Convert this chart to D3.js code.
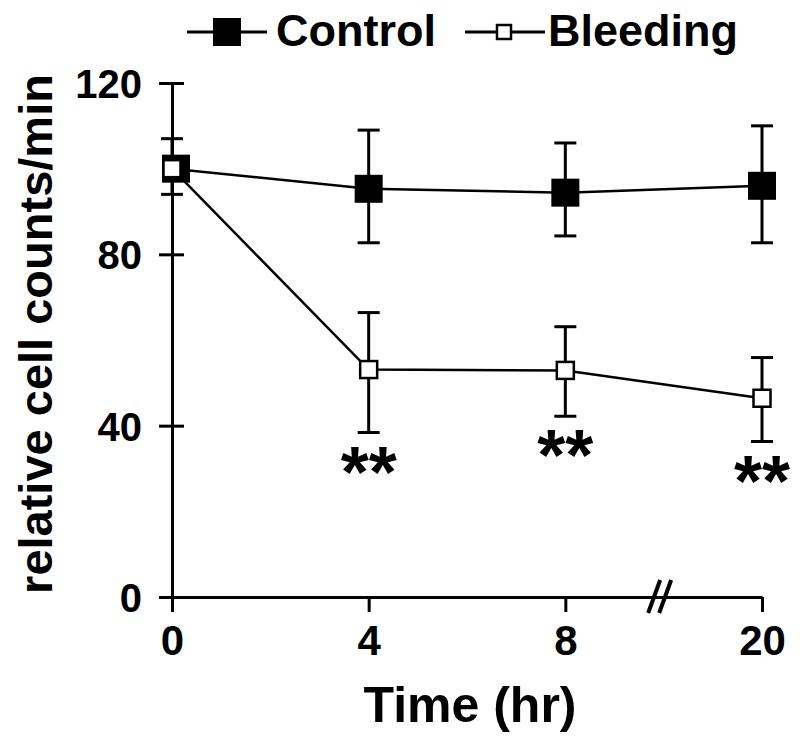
<!DOCTYPE html>
<html>
<head>
<meta charset="utf-8">
<script src="https://cdn.jsdelivr.net/npm/d3@7"></script>
<style>
	body { margin: 0; background: #fff; }
	text { font-family: "Liberation Sans", Arial, sans-serif; font-weight: bold; fill: #000; }
</style>
</head>
<body>
<div id="chart"></div>
<script>
	'use strict';

	// data
	var timeLabels = ['0', '4', '8', '20'];
	var controlMean = [100, 95.3, 94.4, 96];
	var controlUpper = [107, 109, 106, 110];
	var controlLower = [94, 82.7, 84.3, 82.7];
	var bleedingMean = [100, 53.1, 52.9, 46.4];
	var bleedingUpper = [100, 66.4, 63.1, 55.9];
	var bleedingLower = [100, 38.4, 42.2, 36.3];
	var significant = ['', '**', '**', '**'];
	var yTicks = [0, 40, 80, 120];

	var width = 800, height = 743;

	var svg = d3.select('#chart').append('svg')
		.attr('width', width)
		.attr('height', height);

	var x = d3.scalePoint()
		.domain(timeLabels)
		.range([172, 762]);

	var y = d3.scaleLinear()
		.domain([0, 120])
		.range([597, 83]);

	function rows(mean, upper, lower) {
		return timeLabels.map(function (t, i) {
			return { t: t, v: mean[i], hi: upper[i], lo: lower[i], star: significant[i] };
		});
	}
	var control = rows(controlMean, controlUpper, controlLower);
	var bleeding = rows(bleedingMean, bleedingUpper, bleedingLower);

	// y axis, ticks cross the line
	var yAxis = svg.append('g')
		.attr('transform', 'translate(' + x('0') + ',0)')
		.call(d3.axisLeft(y).tickValues(yTicks).tickSize(13).tickSizeOuter(0).tickPadding(17));
	yAxis.selectAll('.tick line').attr('x1', 12).attr('stroke-width', 3);
	yAxis.select('.domain').attr('stroke-width', 3);
	yAxis.selectAll('.tick text')
		.style('font-size', '40px')
		.attr('dy', '0.36em');

	// x axis
	var xAxis = svg.append('g')
		.attr('transform', 'translate(0,' + y(0) + ')')
		.call(d3.axisBottom(x).tickSize(15).tickSizeOuter(0).tickPadding(13));
	xAxis.select('.domain').attr('stroke-width', 3);
	xAxis.selectAll('.tick line').attr('stroke-width', 3);
	xAxis.selectAll('.tick text')
		.style('font-size', '42px')
		.attr('dy', '0.72em');

	// axis break marks between 8 and 20
	var breakX = (x('8') + x('20')) / 2 - 4;
	[-5.5, 5.5].forEach(function (dx) {
		svg.append('line')
			.attr('x1', breakX + dx - 6).attr('y1', y(0) + 16)
			.attr('x2', breakX + dx + 6).attr('y2', y(0) - 17)
			.attr('stroke', '#000').attr('stroke-width', 4);
	});

	// axis titles
	svg.append('text')
		.attr('x', 470).attr('y', 722)
		.attr('text-anchor', 'middle')
		.style('font-size', '50px')
		.text('Time (hr)');

	svg.append('text')
		.attr('transform', 'translate(52,334) rotate(-90)')
		.attr('text-anchor', 'middle')
		.style('font-size', '47px')
		.text('relative cell counts/min');

	var line = d3.line()
		.x(function (d) { return x(d.t); })
		.y(function (d) { return y(d.v); });

	var capW = 11;

	function drawSeries(data) {
		svg.append('path')
			.datum(data)
			.attr('fill', 'none')
			.attr('stroke', '#000')
			.attr('stroke-width', 2.5)
			.attr('d', line);

		var eb = svg.append('g').selectAll('g')
			.data(data.filter(function (d) { return d.hi !== d.lo; }))
			.enter().append('g')
			.attr('stroke', '#000')
			.attr('stroke-width', 3);
		eb.append('line')
			.attr('x1', function (d) { return x(d.t); })
			.attr('x2', function (d) { return x(d.t); })
			.attr('y1', function (d) { return y(d.hi); })
			.attr('y2', function (d) { return y(d.lo); });
		eb.append('line')
			.attr('x1', function (d) { return x(d.t) - capW; })
			.attr('x2', function (d) { return x(d.t) + capW; })
			.attr('y1', function (d) { return y(d.hi); })
			.attr('y2', function (d) { return y(d.hi); });
		eb.append('line')
			.attr('x1', function (d) { return x(d.t) - capW; })
			.attr('x2', function (d) { return x(d.t) + capW; })
			.attr('y1', function (d) { return y(d.lo); })
			.attr('y2', function (d) { return y(d.lo); });
	}

	drawSeries(control);
	drawSeries(bleeding);

	// markers
	var bigS = 28, smallS = 17;
	svg.selectAll('.ctrl')
		.data(control)
		.enter().append('rect')
		.attr('class', 'ctrl')
		.attr('x', function (d) { return x(d.t) - bigS / 2 + (d.t === '0' ? 4 : 0); })
		.attr('y', function (d) { return y(d.v) - bigS / 2; })
		.attr('width', bigS).attr('height', bigS)
		.attr('fill', '#000');

	svg.selectAll('.bleed')
		.data(bleeding)
		.enter().append('rect')
		.attr('class', 'bleed')
		.attr('x', function (d) { return x(d.t) - smallS / 2; })
		.attr('y', function (d) { return y(d.v) - smallS / 2; })
		.attr('width', smallS).attr('height', smallS)
		.attr('fill', '#fff')
		.attr('stroke', '#000')
		.attr('stroke-width', 2.5);

	// significance stars below the bleeding error bars
	svg.selectAll('.star')
		.data(bleeding.filter(function (d) { return d.star; }))
		.enter().append('text')
		.attr('class', 'star')
		.attr('x', function (d) { return x(d.t); })
		.attr('y', function (d) { return y(d.lo) + 64; })
		.attr('text-anchor', 'middle')
		.style('font-size', '72px')
		.text(function (d) { return d.star; });

	// legend
	var lg = svg.append('g');
	lg.append('line').attr('x1', 187).attr('x2', 267).attr('y1', 32).attr('y2', 32)
		.attr('stroke', '#000').attr('stroke-width', 3);
	lg.append('rect').attr('x', 213).attr('y', 18).attr('width', bigS).attr('height', bigS)
		.attr('fill', '#000');
	lg.append('text').attr('x', 276).attr('y', 46).style('font-size', '45px').text('Control');

	lg.append('line').attr('x1', 465).attr('x2', 545).attr('y1', 32).attr('y2', 32)
		.attr('stroke', '#000').attr('stroke-width', 3);
	lg.append('rect').attr('x', 497).attr('y', 25).attr('width', 14).attr('height', 14)
		.attr('fill', '#fff').attr('stroke', '#000').attr('stroke-width', 2.5);
	lg.append('text').attr('x', 548).attr('y', 46).style('font-size', '45px').text('Bleeding');
</script>
</body>
</html>
